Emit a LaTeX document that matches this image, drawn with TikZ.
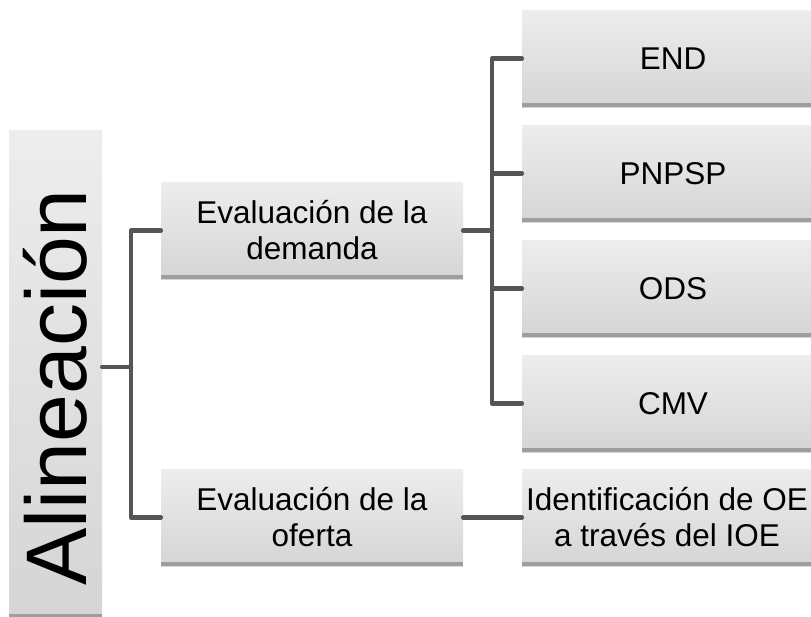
\documentclass[tikz,border=0pt]{standalone}
\usepackage{fontspec}
\setmainfont{Liberation Sans}
\usepackage{tikz}
\usepackage{xcolor}
\definecolor{boxtop}{HTML}{EDEDED}
\definecolor{boxbot}{HTML}{D5D5D5}
\definecolor{barcol}{HTML}{9E9E9E}
\definecolor{linecol}{HTML}{555555}

\begin{document}
\begin{tikzpicture}[x=1pt, y=-1pt, line cap=round, line join=round,
  caja/.style={top color=boxtop, bottom color=boxbot, inner sep=0pt,
    minimum width=302pt, minimum height=97pt, align=center,
    font=\fontsize{31.5}{36}\selectfont,
    path picture={\fill[barcol] (path picture bounding box.south west)
      rectangle ([yshift=4pt]path picture bounding box.south east);}},
  rama/.style={draw=linecol, line width=4.5pt}]
\useasboundingbox (0,0) rectangle (811,616);
\node[caja, minimum width=93pt, minimum height=488pt,
  font=\fontsize{86}{90}\selectfont] (ali) at (55.5,374)
  {\rotatebox{90}{Alineación\hspace*{27pt}}};
\node[caja] (dem) at (312,230.5) {Evaluación de la\\demanda};
\node[caja] (ofe) at (312,517.5) {Evaluación de la\\oferta};
\node[caja] (end) at (673,58.5) {END};
\node[caja] (pnp) at (673,173.5) {PNPSP};
\node[caja] (ods) at (673,288.5) {ODS};
\node[caja] (cmv) at (673,403.5) {CMV};
\node[caja] (ide) at (673,517.5)
  {Identificación de OE\hspace*{12pt}\\a través del IOE\hspace*{12pt}};
\coordinate (t1) at (131,367);
\coordinate (t2) at (492,230.5);
\draw[rama] (t1 -| ali.east) -- (t1);
\draw[rama] (t1) |- (dem.west);
\draw[rama] (t1) |- (ofe.west);
\draw[rama] (dem.east) -- (t2);
\draw[rama] (t2) |- (end.west);
\draw[rama] (t2) |- (pnp.west);
\draw[rama] (t2) |- (ods.west);
\draw[rama] (t2) |- (cmv.west);
\draw[rama] (ofe.east) -- (ide.west);
\end{tikzpicture}
\end{document}
